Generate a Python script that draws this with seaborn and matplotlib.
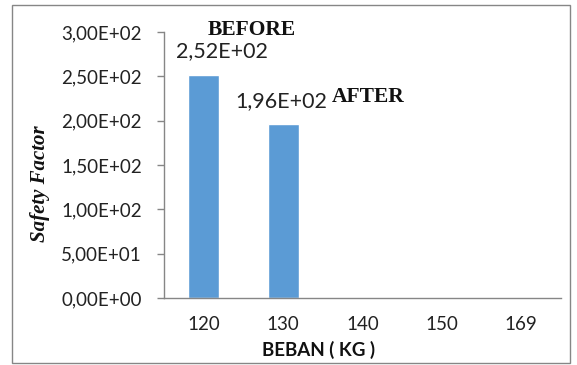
import matplotlib
matplotlib.use("Agg")
import matplotlib.pyplot as plt
import matplotlib.ticker as mticker
from matplotlib.patches import Rectangle
import seaborn as sns
import pandas as pd

# Load (kg) categories and the safety factor for each
beban = ["120", "130", "140", "150", "169"]
safety_factor = [252, 196, 0, 0, 0]
y_ticks = [0, 50, 100, 150, 200, 250, 300]

sns.set_theme(style="white")
plt.rcParams["font.family"] = ["Lato", "DejaVu Sans"]

df = pd.DataFrame({"beban": beban, "sf": safety_factor})

fig = plt.figure(figsize=(5.77, 3.65), dpi=100)
ax = fig.add_axes([164 / 577, 1 - 298 / 365, (561 - 164) / 577, (298 - 32) / 365])

sns.barplot(data=df, x="beban", y="sf", order=beban, color="#5B9BD5",
            width=0.39, saturation=1, ax=ax)

ax.set_xlim(-0.5, len(beban) - 0.5)
ax.set_ylim(0, 300)
ax.set_yticks(y_ticks)


def sci_comma(v, _pos):
    return f"{v:.2E}".replace(".", ",")


ax.yaxis.set_major_formatter(mticker.FuncFormatter(sci_comma))

grey = "#868686"
for side in ("top", "right"):
    ax.spines[side].set_visible(False)
for side in ("left", "bottom"):
    ax.spines[side].set_color(grey)
    ax.spines[side].set_linewidth(1.0)

ax.set_xticks([i - 0.5 for i in range(len(beban) + 1)], minor=True)
ax.tick_params(axis="x", which="major", length=0, pad=13, labelsize=13.5, colors="#222222")
ax.tick_params(axis="x", which="minor", length=6, width=1, color=grey, direction="out")
ax.tick_params(axis="y", which="major", length=5, width=1, color=grey, direction="out",
               left=True, pad=11, labelsize=13.5, labelcolor="#222222")
for lbl in ax.get_yticklabels():
    lbl.set_horizontalalignment("right")

ax.set_xlabel("")
ax.set_ylabel("")

# value labels above the two loaded bars
offsets = {0: (13, 17), 1: (-1, 17)}
for i, v in enumerate(safety_factor):
    if v > 0:
        dx, dy = offsets.get(i, (0, 17))
        ax.annotate(sci_comma(v, None), xy=(i, v), xytext=(dx, dy), textcoords="offset points",
                    ha="center", va="center", fontsize=15.5, color="#222222")

serif = ["Liberation Serif", "DejaVu Serif"]
fig.text(252 / 577, 1 - 30 / 365, "BEFORE", family=serif, fontweight="bold",
         fontsize=15.5, ha="center", va="center", color="#111111")
fig.text(368 / 577, 1 - 97 / 365, "AFTER", family=serif, fontweight="bold",
         fontsize=15.5, ha="center", va="center", color="#111111")
fig.text(40 / 577, 1 - 184 / 365, "Safety Factor", family=serif, fontweight="bold",
         fontstyle="italic", fontsize=15, rotation=90, ha="center", va="center",
         color="#111111")
fig.text(319 / 577, 1 - 350 / 365, "BEBAN ( KG )", fontweight="bold", fontsize=13.5,
         ha="center", va="center", color="#111111")

# outer chart frame
fig.patches.append(Rectangle((12 / 577, 1 - 363 / 365), (570 - 12) / 577, (363 - 5) / 365,
                             transform=fig.transFigure, fill=False, edgecolor=grey,
                             linewidth=1.0))

fig.savefig("out.png", dpi=100, facecolor="white")
